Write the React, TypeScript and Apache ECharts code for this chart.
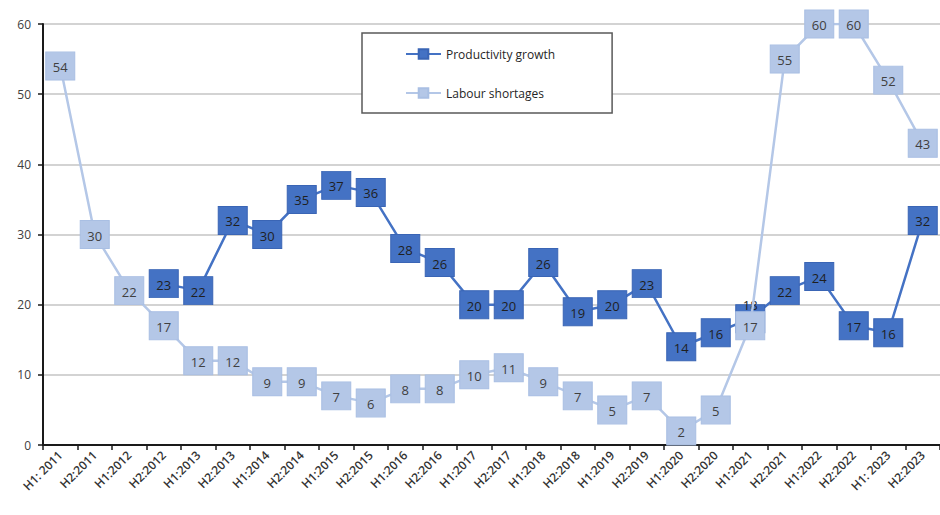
import React, { useEffect, useRef } from "react";
import * as echarts from "echarts";

const categories = [
  "H1: 2011", "H2:2011", "H1:2012", "H2:2012", "H1:2013", "H2:2013",
  "H1:2014", "H2:2014", "H1:2015", "H2:2015", "H1:2016", "H2:2016",
  "H1:2017", "H2:2017", "H1:2018", "H2:2018", "H1:2019", "H2:2019",
  "H1:2020", "H2:2020", "H1:2021", "H2:2021", "H1:2022", "H2:2022",
  "H1: 2023", "H2:2023",
];

const productivityGrowth = [
  null, null, null, 23, 22, 32, 30, 35, 37, 36, 28, 26, 20, 20, 26, 19, 20,
  23, 14, 16, 18, 22, 24, 17, 16, 32,
];

const labourShortages = [
  54, 30, 22, 17, 12, 12, 9, 9, 7, 6, 8, 8, 10, 11, 9, 7, 5, 7, 2, 5, 17, 55,
  60, 60, 52, 43,
];

// category whose productivity label is partly hidden behind the labour box
const raisedLabelCategory = "H1:2021";

const yTicks = { min: 0, max: 60, interval: 10 };

export default function App() {
  const ref = useRef<HTMLDivElement>(null);
  useEffect(() => {
    if (!ref.current) return;
    const chart = echarts.init(ref.current, undefined, { renderer: "svg" });
    const font = "'Open Sans', 'Liberation Sans', sans-serif";
    const prodData = productivityGrowth.map((v, i) =>
      categories[i] === raisedLabelCategory
        ? { value: v, label: { offset: [0, -14] } }
        : v
    );
    chart.setOption({
      animation: false,
      backgroundColor: "#ffffff",
      textStyle: { fontFamily: font },
      grid: { left: 43, right: 0, top: 24, bottom: 70, containLabel: false },
      legend: {
        orient: "vertical",
        left: 362,
        top: 33,
        padding: [15, 57, 14, 43],
        itemGap: 27,
        itemWidth: 35,
        itemHeight: 12,
        borderColor: "#595959",
        borderWidth: 1.5,
        backgroundColor: "#ffffff",
        textStyle: { fontSize: 12, color: "#262626", fontFamily: font },
        data: ["Productivity growth", "Labour shortages"],
      },
      xAxis: {
        type: "category",
        data: categories,
        boundaryGap: true,
        axisLine: { lineStyle: { color: "#1a1a1a", width: 2 } },
        axisTick: { show: true, alignWithLabel: false, length: 5, lineStyle: { color: "#1a1a1a", width: 1.5 } },
        axisLabel: {
          rotate: 45,
          interval: 0,
          fontSize: 12,
          fontWeight: 600,
          color: "#333333",
          fontFamily: font,
          margin: 8,
        },
      },
      yAxis: {
        type: "value",
        min: yTicks.min,
        max: yTicks.max,
        interval: yTicks.interval,
        axisLine: { show: true, lineStyle: { color: "#1a1a1a", width: 2 } },
        axisTick: { show: true, length: 5, lineStyle: { color: "#1a1a1a", width: 1.5 } },
        axisLabel: { fontSize: 12, color: "#404040", fontFamily: font, margin: 12 },
        splitLine: { lineStyle: { color: "#c4c4c4", width: 1.5 } },
      },
      series: [
        {
          name: "Productivity growth",
          type: "line",
          data: prodData,
          connectNulls: false,
          symbol: "rect",
          symbolSize: [29, 28],
          lineStyle: { color: "#4472c4", width: 2.5 },
          itemStyle: { color: "#4472c4", borderColor: "#3a65b5", borderWidth: 1 },
          label: {
            show: true,
            position: "inside",
            fontSize: 13,
            color: "#1f1f1f",
            fontFamily: font,
            offset: [0, 1],
          },
          z: 2,
        },
        {
          name: "Labour shortages",
          type: "line",
          data: labourShortages,
          symbol: "rect",
          symbolSize: [29, 28],
          lineStyle: { color: "#b4c7e7", width: 2.5 },
          itemStyle: { color: "#b4c7e7", borderColor: "#a9bfe3", borderWidth: 1 },
          label: {
            show: true,
            position: "inside",
            fontSize: 13,
            color: "#404040",
            fontFamily: font,
            offset: [0, 1],
          },
          z: 3,
        },
      ],
    });
    return () => chart.dispose();
  }, []);
  return (
    <div
      ref={ref}
      style={{ position: "absolute", left: 0, top: 0, width: 940, height: 515 }}
    />
  );
}
